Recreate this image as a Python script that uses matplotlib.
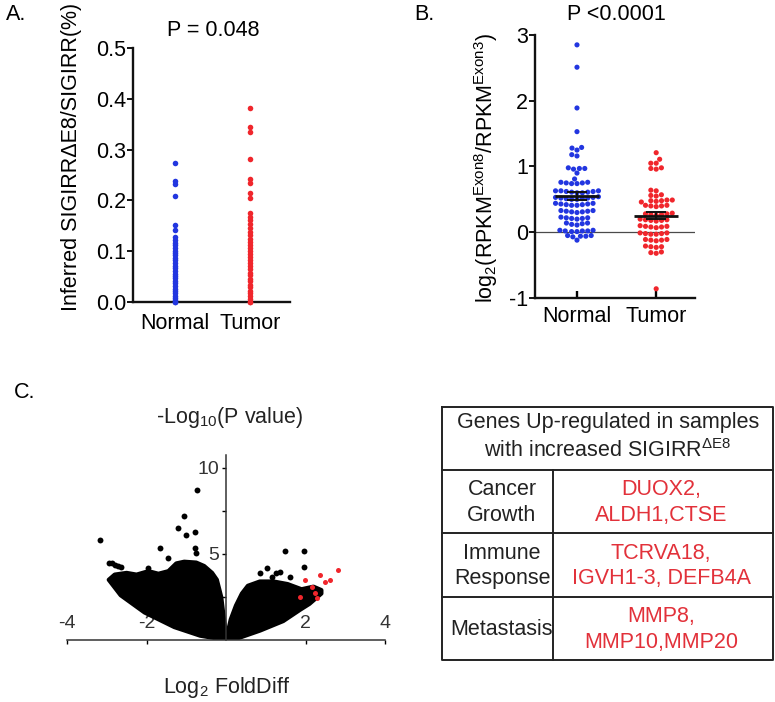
import numpy as np
import matplotlib
matplotlib.use('Agg')
import matplotlib.pyplot as plt
import seaborn as sns

plt.rcParams['font.family'] = ['Liberation Sans', 'DejaVu Sans']
plt.rcParams['mathtext.fontset'] = 'custom'
plt.rcParams['mathtext.rm'] = 'Liberation Sans'
plt.rcParams['mathtext.it'] = 'Liberation Sans:italic'
plt.rcParams['axes.unicode_minus'] = False

W, H = 775, 702
BLUE = '#2236e0'
RED = '#f0262c'
TABLE_RED = '#e2313a'

# ---------------- data ----------------
groups = ['Normal', 'Tumor']

# A: inferred SIGIRR dE8 / SIGIRR (%)
a_normal = [0.273, 0.238, 0.232, 0.208, 0.151, 0.141, 0.128, 0.122, 0.117, 0.112,
            0.107, 0.101, 0.097, 0.092, 0.086, 0.082, 0.077, 0.071, 0.067, 0.062,
            0.056, 0.052, 0.047, 0.041, 0.037, 0.032, 0.026, 0.022, 0.017, 0.012,
            0.007, 0.003, 0.0, 0.0]
a_tumor = [0.382, 0.345, 0.335, 0.281, 0.243, 0.234, 0.214, 0.204, 0.175, 0.168,
           0.161, 0.153, 0.146, 0.138, 0.131, 0.125, 0.119, 0.112, 0.107, 0.101,
           0.095, 0.088, 0.083, 0.077, 0.070, 0.065, 0.058, 0.053, 0.046, 0.041,
           0.034, 0.029, 0.022, 0.017, 0.011, 0.006, 0.0, 0.0]

# B: log2(RPKM exon8 / RPKM exon3)
b_normal = [2.85, 2.51, 1.89, 1.53, 1.29, 1.28, 1.25, 1.18, 1.16,
            0.98, 0.97, 0.97, 0.96, 0.90, 0.81,
            0.76, 0.75, 0.74, 0.75, 0.76, 0.74,
            0.63, 0.61, 0.62, 0.60, 0.63, 0.61, 0.62, 0.60, 0.63,
            0.53, 0.51, 0.52, 0.50, 0.54, 0.51, 0.53, 0.50, 0.52,
            0.44, 0.42, 0.43, 0.41, 0.44, 0.42, 0.43, 0.41,
            0.33, 0.31, 0.32, 0.30, 0.33, 0.31, 0.32,
            0.22, 0.21, 0.23, 0.20, 0.22, 0.21,
            0.14, 0.12, 0.13, 0.11, 0.14,
            0.03, 0.02, 0.01, 0.03, 0.02, 0.01, 0.02,
            -0.05, -0.06, -0.07, -0.05, -0.06, -0.12]
b_tumor = [1.21, 1.11, 1.05, 1.05, 0.97, 0.96, 0.98,
           0.64, 0.63, 0.56, 0.55, 0.57,
           0.48, 0.47, 0.49, 0.48, 0.46, 0.49,
           0.40, 0.41, 0.39, 0.40, 0.41,
           0.28, 0.27, 0.29, 0.26, 0.28, 0.27,
           0.19, 0.18, 0.20, 0.17, 0.19, 0.18,
           0.09, 0.08, 0.10, 0.07, 0.09, 0.08,
           -0.02, -0.01, -0.03, -0.02, -0.01, -0.03,
           -0.12, -0.11, -0.13, -0.12, -0.11,
           -0.22, -0.21, -0.23, -0.22,
           -0.31, -0.30, -0.32,
           -0.86]

# C: volcano, outlines of the dense gene clouds (log2 fold diff, -log10 p)
left_cloud_x = [0.0, -0.65, -1.3, -2.05, -2.65, -2.95, -2.8, -2.5, -2.25, -1.95,
                -1.7, -1.45, -1.25, -1.05, -0.75, -0.55, -0.35, -0.23, -0.12, -0.03]
left_cloud_y = [0.0, 0.25, 0.75, 1.6, 2.6, 3.5, 3.8, 3.9, 3.8, 4.0,
                3.85, 4.0, 4.45, 4.55, 4.5, 4.3, 3.9, 3.5, 2.5, 0.8]
right_cloud_x = [0.0, 0.3, 0.86, 1.44, 1.86, 2.1, 2.4, 2.4, 2.2, 1.9,
                 1.55, 1.2, 0.85, 0.55, 0.4, 0.25, 0.12]
right_cloud_y = [0.0, 0.1, 0.55, 1.1, 1.75, 2.1, 2.7, 2.9, 3.1, 2.95,
                 3.25, 3.4, 3.4, 3.15, 2.7, 2.0, 1.2]
# individual genes above the clouds
out_x = [-0.74, -1.05, -1.22, -1.01, -0.77, -3.17, -1.66, -0.78, -0.76,
         -2.95, -2.88, -2.8, -2.72, -2.65, -1.45, -1.95,
         1.48, 1.96, 1.97, 1.02, 0.86, 1.27, 1.36, 1.61, 1.15]
out_y = [8.72, 7.21, 6.53, 6.1, 6.3, 5.81, 5.33, 5.33, 5.04,
         4.5, 4.45, 4.38, 4.3, 4.22, 4.75, 4.17,
         5.17, 5.17, 4.22, 4.17, 3.92, 3.92, 3.97, 3.64, 3.68]
# up-regulated genes highlighted in red
up_x = [1.99, 2.16, 2.24, 2.36, 2.49, 2.62, 2.83, 2.28, 1.86]
up_y = [3.49, 3.1, 2.71, 3.78, 3.39, 3.49, 4.07, 2.42, 2.52]

# table
table_header = 'Genes Up-regulated in samples\nwith increased SIGIRR$^{\\mathrm{\\Delta E8}}$'
table_terms = ['Cancer\nGrowth', 'Immune\nResponse', 'Metastasis']
table_genes = ['DUOX2,\nALDH1,CTSE', 'TCRVA18,\nIGVH1-3, DEFB4A', 'MMP8,\nMMP10,MMP20']

FS = 15.5

fig = plt.figure(figsize=(W / 100, H / 100), dpi=100)

# ---- table (drawn in pixel coordinates) ----
ax_t = fig.add_axes([0, 0, 1, 1])
ax_t.set_xlim(0, W)
ax_t.set_ylim(H, 0)
ax_t.axis('off')
tl, tr, tt, tb = 442, 773, 407, 660
row_edges = [470, 533, 597, 660]
col_split = 553
ax_t.plot([tl, tr, tr, tl, tl], [tt, tt, tb, tb, tt], color='#222222', lw=1.4)
for yy in row_edges[:-1]:
    ax_t.plot([tl, tr], [yy, yy], color='#222222', lw=1.4)
ax_t.plot([col_split, col_split], [row_edges[0], tb], color='#222222', lw=1.4)
ax_t.text(608, 437, table_header, ha='center', va='center', fontsize=FS,
          linespacing=1.3, color='#222222')
for i, (term, genes) in enumerate(zip(table_terms, table_genes)):
    yc = (row_edges[i] + row_edges[i + 1]) / 2 + 1
    ax_t.text(502, yc, term, ha='center', va='center', fontsize=FS,
              linespacing=1.3, color='#222222')
    ax_t.text(661, yc, genes, ha='center', va='center', fontsize=FS,
              linespacing=1.3, color=TABLE_RED)

# ---- panel A ----
ax_a = fig.add_axes([133 / W, 1 - 302 / H, 157 / W, 254 / H])
ax_a.scatter(np.zeros(len(a_normal)), a_normal, s=16, color=BLUE, lw=0,
             clip_on=False, zorder=3)
ax_a.scatter(np.ones(len(a_tumor)), a_tumor, s=16, color=RED, lw=0,
             clip_on=False, zorder=3)
ax_a.set_xlim(-0.56, 1.53)
ax_a.set_ylim(0, 0.5)
ax_a.set_yticks([0, 0.1, 0.2, 0.3, 0.4, 0.5])
ax_a.set_yticklabels(['0.0', '0.1', '0.2', '0.3', '0.4', '0.5'])
ax_a.set_xticks([0, 1])
ax_a.set_xticklabels(groups)

# ---- panel B ----
ax_b = fig.add_axes([535 / W, 1 - 298 / H, 160 / W, 263 / H])
b_vals = b_normal + b_tumor
b_grp = ['Normal'] * len(b_normal) + ['Tumor'] * len(b_tumor)
ax_b.axhline(0, color='#4a4a4a', lw=0.9, zorder=1)
sns.swarmplot(x=b_grp, y=b_vals, hue=b_grp, order=groups,
              palette={'Normal': BLUE, 'Tumor': RED}, size=3.7,
              linewidth=0, legend=False, ax=ax_b, zorder=2)
for i, vals in enumerate([b_normal, b_tumor]):
    m = np.mean(vals)
    sem = np.std(vals, ddof=1) / np.sqrt(len(vals))
    ax_b.hlines(m, i - 0.28, i + 0.28, color='#111111', lw=2, zorder=4)
    ax_b.errorbar(i, m, yerr=sem, color='#111111', lw=1.4, capsize=7,
                  capthick=1.4, zorder=4)
ax_b.set_xlim(-0.53, 1.49)
ax_b.set_ylim(-1, 3)
ax_b.set_yticks([-1, 0, 1, 2, 3])
ax_b.set_xticks([0, 1])
ax_b.set_xticklabels(groups)
ax_b.set_xlabel('')
ax_b.set_ylabel('')

for ax in (ax_a, ax_b):
    for side in ('top', 'right'):
        ax.spines[side].set_visible(False)
    for side in ('left', 'bottom'):
        ax.spines[side].set_linewidth(1.7)
        ax.spines[side].set_color('#111111')
    ax.tick_params(axis='y', direction='out', length=4, width=1.3,
                   labelsize=FS, pad=1)
    ax.set_facecolor('none')
ax_a.tick_params(axis='x', length=0, labelsize=FS, pad=8)
ax_b.tick_params(axis='x', direction='in', length=5, width=1.7, labelsize=FS, pad=6)

# ---- panel C ----
ax_c = fig.add_axes([67 / W, 1 - 640 / H, 318 / W, 185 / H])
ax_c.fill(left_cloud_x, left_cloud_y, facecolor='black', edgecolor='black',
          lw=3, joinstyle='round', zorder=2)
ax_c.fill(right_cloud_x, right_cloud_y, facecolor='black', edgecolor='black',
          lw=3, joinstyle='round', zorder=2)
ax_c.scatter(out_x, out_y, s=18, color='black', lw=0, zorder=3)
ax_c.scatter(up_x, up_y, s=13, color=RED, lw=0, zorder=3)
ax_c.set_xlim(-4, 4)
ax_c.set_ylim(0, 10.75)
ax_c.spines['left'].set_position(('data', 0))
for side in ('top', 'right'):
    ax_c.spines[side].set_visible(False)
for side in ('left', 'bottom'):
    ax_c.spines[side].set_linewidth(1.1)
    ax_c.spines[side].set_color('#333333')
ax_c.set_xticks([-4, -2, 2, 4])
ax_c.set_xticklabels(['-4', '-2', '2', '4'])
ax_c.set_yticks([2.5, 5, 7.5, 10])
ax_c.set_yticklabels(['', '5', '', '10'])
ax_c.tick_params(axis='x', direction='out', length=3, width=1, pad=-21,
                 labelsize=14, labelcolor='#333333')
ax_c.tick_params(axis='y', direction='out', length=3, width=1, pad=2,
                 labelsize=14, labelcolor='#333333')
ax_c.set_facecolor('none')

# ---- texts ----
fig.text(6 / W, 1 - 15 / H, 'A.', fontsize=FS, va='center')
fig.text(414 / W, 1 - 15 / H, 'B.', fontsize=FS, va='center')
fig.text(14 / W, 1 - 393 / H, 'C.', fontsize=FS, va='center')
fig.text(213 / W, 1 - 30 / H, 'P = 0.048', fontsize=FS, ha='center', va='center')
fig.text(616 / W, 1 - 15 / H, 'P <0.0001', fontsize=FS, ha='center', va='center')
fig.text(72 / W, 1 - 157 / H, 'Inferred SIGIRR\u0394E8/SIGIRR(%)', fontsize=FS,
         rotation=90, ha='center', va='center')
fig.text(486 / W, 1 - 168 / H,
         r'log$_2$(RPKM$^{\mathrm{Exon8}}$/RPKM$^{\mathrm{Exon3}}$)',
         fontsize=FS, rotation=90, ha='center', va='center')
fig.text(230 / W, 1 - 418 / H, r'-Log$_{10}$(P value)', fontsize=FS,
         ha='center', va='center', color='#222222')
fig.text(227 / W, 1 - 688 / H, r'Log$_2$ FoldDiff', fontsize=FS,
         ha='center', va='center', color='#222222')

fig.savefig('out.png', dpi=100)
